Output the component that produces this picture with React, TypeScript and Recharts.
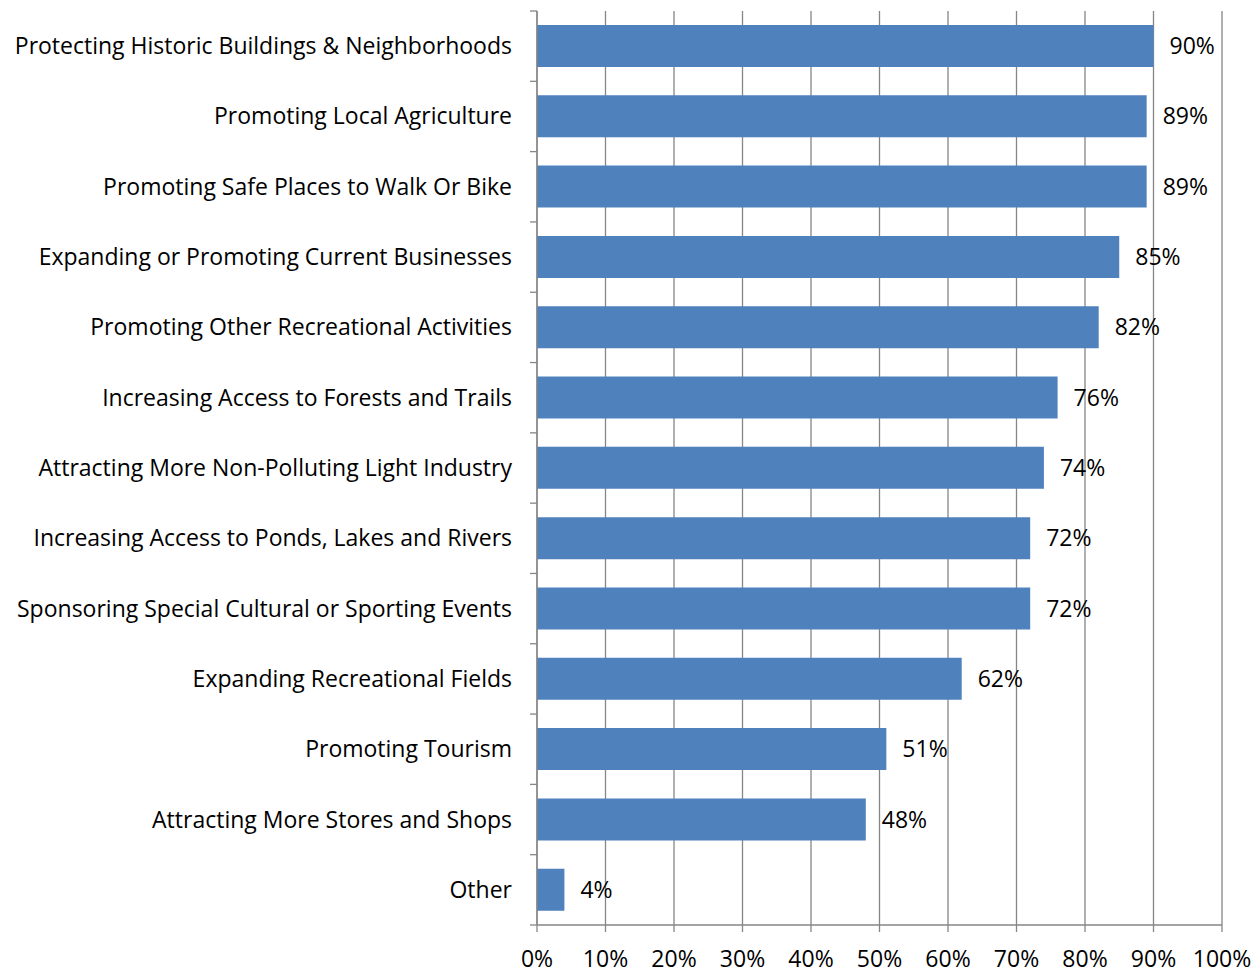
import { Bar, BarChart, CartesianGrid, LabelList, XAxis, YAxis } from "recharts";

const categories = [
  "Protecting Historic Buildings & Neighborhoods",
  "Promoting Local Agriculture",
  "Promoting Safe Places to Walk Or Bike",
  "Expanding or Promoting Current Businesses",
  "Promoting Other Recreational Activities",
  "Increasing Access to Forests and Trails",
  "Attracting More Non-Polluting Light Industry",
  "Increasing Access to Ponds, Lakes and Rivers",
  "Sponsoring Special Cultural or Sporting Events",
  "Expanding Recreational Fields",
  "Promoting Tourism",
  "Attracting More Stores and Shops",
  "Other",
];
const values = [90, 89, 89, 85, 82, 76, 74, 72, 72, 62, 51, 48, 4];
const xTicks = [0, 10, 20, 30, 40, 50, 60, 70, 80, 90, 100];

const data = categories.map((name, i) => ({ name, value: values[i] }));

const W = 1260;
const H = 972;
const X_AXIS_H = 47;
const margin = { top: 11, right: 38, bottom: 0, left: 0 };
const band = (H - margin.top - X_AXIS_H) / categories.length;
const FONT = "'Open Sans', 'Noto Sans', sans-serif";
const FS = 23;
const GRID = "#868686";

function CategoryTick(props: any) {
  const { x, y, payload, index } = props;
  const top = y - band / 2;
  return (
    <g>
      <line x1={x - 7} x2={x} y1={top} y2={top} stroke={GRID} strokeWidth={1.3} />
      {index === categories.length - 1 && (
        <line x1={x - 7} x2={x} y1={top + band} y2={top + band} stroke={GRID} strokeWidth={1.3} />
      )}
      <text x={x - 25} y={y} dy={8} textAnchor="end" fill="#000" fontSize={FS} fontFamily={FONT}>
        {payload.value}
      </text>
    </g>
  );
}

export default function App() {
  return (
    <div style={{ position: "absolute", left: 0, top: 0, background: "#fff" }}>
      <BarChart width={W} height={H} data={data} layout="vertical" margin={margin} barCategoryGap="20%">
        <CartesianGrid horizontal={false} vertical stroke={GRID} strokeWidth={1.3} />
        <XAxis
          type="number"
          domain={[0, 100]}
          ticks={xTicks}
          interval={0}
          height={X_AXIS_H}
          tickFormatter={(v: number) => `${v}%`}
          axisLine={{ stroke: GRID, strokeWidth: 1.3 }}
          tickLine={{ stroke: GRID, strokeWidth: 1.3 }}
          tickSize={7}
          tickMargin={19}
          tick={{ fill: "#000", fontSize: FS, fontFamily: FONT }}
        />
        <YAxis
          type="category"
          dataKey="name"
          width={537}
          axisLine={{ stroke: GRID, strokeWidth: 1.3 }}
          tickLine={false}
          tickSize={0}
          tickMargin={0}
          interval={0}
          tick={<CategoryTick />}
        />
        <Bar dataKey="value" fill="#4F81BD" barSize={42} isAnimationActive={false}>
          <LabelList
            dataKey="value"
            position="right"
            offset={16}
            formatter={(v: any) => `${v}%`}
            fill="#000"
            fontSize={FS}
            fontFamily={FONT}
          />
        </Bar>
      </BarChart>
    </div>
  );
}
